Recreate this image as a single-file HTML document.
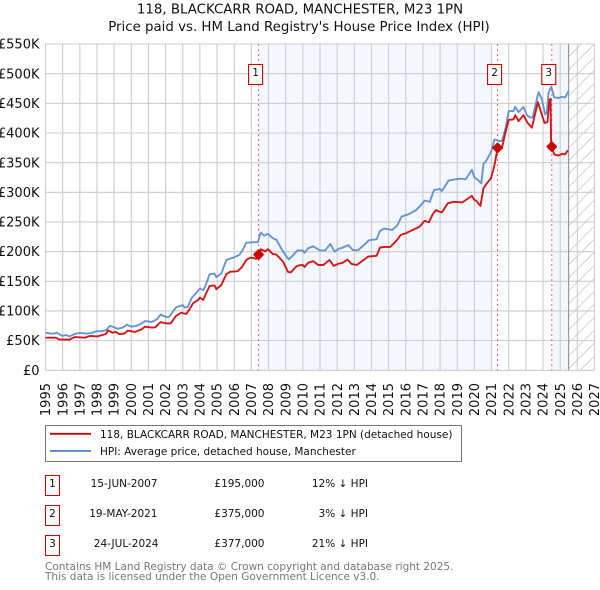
<!DOCTYPE html>
<html lang="en">
<head>
<meta charset="utf-8">
<title>118, BLACKCARR ROAD, MANCHESTER, M23 1PN</title>
<style>
html,body{margin:0;padding:0;background:#fff;}
body{width:600px;height:590px;overflow:hidden;position:relative;}
svg{display:block;position:absolute;left:0;top:0;font-family:"DejaVu Sans","Liberation Sans",sans-serif;}
</style>
</head>
<body>
<svg id="chart" width="600" height="590" viewBox="0 0 600 590" xmlns="http://www.w3.org/2000/svg">
<defs>
<pattern id="hatch" patternUnits="userSpaceOnUse" width="13" height="13" patternTransform="translate(568.5 44)">
<path d="M-1 14 L14 -1 M-3.5 3.5 L3.5 -3.5 M9.5 16.5 L16.5 9.5" stroke="#ccc" stroke-width="0.8" fill="none"/>
</pattern>
</defs>
<text x="300" y="13.5" text-anchor="middle" font-size="13.35" fill="#111">118, BLACKCARR ROAD, MANCHESTER, M23 1PN</text>
<text x="299" y="31" text-anchor="middle" font-size="13.35" fill="#111">Price paid vs. HM Land Registry's House Price Index (HPI)</text>
<g id="bands"></g>
<g id="grid"></g>
<g id="xticks"></g>
<g id="yticks"></g>
<g id="series"></g>
<g id="sales"></g>

<rect x="45.5" y="425.5" width="416" height="36" fill="#fff" stroke="#777" stroke-width="1"/>
<line x1="50" y1="433.8" x2="91" y2="433.8" stroke="#cc0000" stroke-width="1.9"/>
<text x="100" y="438" font-size="10.5" fill="#111">118, BLACKCARR ROAD, MANCHESTER, M23 1PN (detached house)</text>
<line x1="50" y1="451" x2="91" y2="451" stroke="#5f8fd0" stroke-width="1.9"/>
<text x="100" y="455" font-size="10.5" fill="#111">HPI: Average price, detached house, Manchester</text>

<g font-size="10.5" fill="#111">
<rect x="45.5" y="475.5" width="14" height="20" fill="#fff" stroke="#c00"/>
<text x="52.5" y="487" text-anchor="middle">1</text>
<text x="157.5" y="487" text-anchor="end">15-JUN-2007</text>
<text x="264.5" y="487" text-anchor="end">£195,000</text>
<text x="368" y="487" text-anchor="end">12% ↓ HPI</text>

<rect x="45.5" y="505.5" width="14" height="20" fill="#fff" stroke="#c00"/>
<text x="52.5" y="517" text-anchor="middle">2</text>
<text x="157.5" y="517" text-anchor="end">19-MAY-2021</text>
<text x="264.5" y="517" text-anchor="end">£375,000</text>
<text x="368" y="517" text-anchor="end">3% ↓ HPI</text>

<rect x="45.5" y="535.5" width="14" height="20" fill="#fff" stroke="#c00"/>
<text x="52.5" y="547" text-anchor="middle">3</text>
<text x="158.5" y="547" text-anchor="end">24-JUL-2024</text>
<text x="264.5" y="547" text-anchor="end">£377,000</text>
<text x="368" y="547" text-anchor="end">21% ↓ HPI</text>
</g>

<text x="45" y="570" font-size="10.5" fill="#777">Contains HM Land Registry data © Crown copyright and database right 2025.</text>
<text x="45" y="580" font-size="10.5" fill="#777">This data is licensed under the Open Government Licence v3.0.</text>
</svg>
<script>
const xTickYears = [1995,1996,1997,1998,1999,2000,2001,2002,2003,2004,2005,2006,2007,2008,2009,2010,2011,2012,2013,2014,2015,2016,2017,2018,2019,2020,2021,2022,2023,2024,2025,2026,2027];
const yTickValues = [0,50,100,150,200,250,300,350,400,450,500,550];
const yTickLabels = ['£0','£50K','£100K','£150K','£200K','£250K','£300K','£350K','£400K','£450K','£500K','£550K'];

const hpiDates = [1995,1995.3,1995.5,1995.65,1995.85,1996,1996.2,1996.4,1996.6,1996.8,1997,1997.4,1997.7,1998,1998.3,1998.55,1998.75,1999,1999.2,1999.5,1999.75,2000,2000.3,2000.6,2000.8,2001.2,2001.5,2001.7,2002,2002.2,2002.6,2003,2003.1,2003.3,2003.5,2003.8,2004,2004.2,2004.34,2004.57,2004.85,2004.96,2005.25,2005.54,2005.95,2006.3,2006.5,2006.7,2007.1,2007.38,2007.54,2007.75,2007.97,2008.25,2008.46,2008.85,2009.17,2009.4,2009.68,2010,2010.1,2010.3,2010.6,2011,2011.3,2011.6,2011.85,2012.1,2012.3,2012.65,2012.9,2013.2,2013.55,2013.85,2014.3,2014.5,2014.75,2015.2,2015.5,2015.75,2016.2,2016.6,2016.9,2017.1,2017.4,2017.65,2018,2018.1,2018.5,2018.9,2019.2,2019.5,2019.85,2020,2020.2,2020.4,2020.53,2020.72,2021,2021.17,2021.45,2021.6,2021.8,2022,2022.28,2022.38,2022.57,2022.86,2023.06,2023.25,2023.39,2023.74,2023.93,2024.13,2024.22,2024.32,2024.48,2024.65,2024.9,2025.1,2025.29,2025.49];
const hpiValues = [63.5,62,62,63.5,60,58,59.6,57,60,62,63,62,63,66,66,68,75,72.5,70,72,77,73.6,74.7,79,83,81.5,86,94,90,90,106,110,106,107,121,131,138,135,144,162,163,157,163,186,190,194.5,203,215,216,216,232,227,230,222.5,220,200,187,193,202,202,198,205.6,209,202,202,213,200,205,206.5,211,203,202,211,219,221,235,239,236.5,244,259,263.5,270,279,286,284,304,305.6,302,320,322,323,322,338,325,321,315,348,354.6,370,389,386.5,386.5,406,437,437,444,435,444,430,426,426,469,457,431,434,468,478,460,459,461,460,471];

const priceDates = [1995,1995.6,1995.8,1996.4,1996.7,1997.3,1997.6,1998,1998.5,1998.65,1998.9,1999.1,1999.3,1999.6,1999.8,2000.2,2000.6,2000.8,2001.2,2001.4,2001.7,2002.1,2002.3,2002.6,2002.9,2003.2,2003.4,2003.6,2003.9,2004,2004.2,2004.34,2004.57,2004.85,2004.96,2005.25,2005.54,2005.75,2006.2,2006.45,2006.7,2006.95,2007.3,2007.42,2007.54,2007.8,2007.97,2008.25,2008.46,2008.85,2009.13,2009.3,2009.62,2009.8,2010,2010.1,2010.3,2010.6,2010.9,2011.2,2011.55,2011.8,2012.1,2012.3,2012.6,2012.85,2013.15,2013.5,2013.8,2014.3,2014.5,2014.8,2015.1,2015.5,2015.7,2016,2016.4,2016.8,2017.1,2017.35,2017.55,2017.75,2018.1,2018.45,2018.8,2019.3,2019.85,2020,2020.1,2020.35,2020.53,2020.72,2020.96,2021.12,2021.2,2021.35,2021.6,2021.8,2022,2022.28,2022.38,2022.57,2022.86,2023.1,2023.35,2023.7,2023.93,2024.09,2024.26,2024.38,2024.44,2024.47,2024.51,2024.65,2024.9,2025.13,2025.29,2025.45];
const priceValues = [55,55,52,51.7,56,55,58,57,61,67,63.5,64.6,61,62,67,64.6,69,73.6,72,72.5,81,79,79,91.6,97,95,103,113,118.6,122.5,118.6,128.7,142,143,136.6,144,162,166,167,174,186,190,188,195,204,200.6,204,196,195,183,166,165,175,177,177.5,174,181,184,177.5,177.5,186,176,180,181,186.5,179,177.5,185,191.6,193,207,208,208,220,228,231,236.5,242,252,249.5,262,270,266,281.5,284,283,294,287,286,277,307,315,323.6,340,350,375,374,400,422,423,430,420,430,417,409,452,431,417,418.6,456,458,385,377,364,362,365,364,371];

const saleDates = [2007.42,2021.35,2024.51];
const salePrices = [195,375,377];
const saleLabels = ['1','2','3'];
const bandRanges = [[2007.42,2021],[2024.51,2025.49]];
const dataEndYear = 2025.49;

const NS = 'http://www.w3.org/2000/svg';
const PLOT = {left:45.5,right:594.5,top:44,bottom:370.3};
function xScale(year){return PLOT.left+(year-1995)*(PLOT.right-PLOT.left)/32;}
function yScale(v){return PLOT.bottom-v*(PLOT.bottom-PLOT.top)/550;}
function mk(tag,attrs,parent){
  const el=document.createElementNS(NS,tag);
  for(const k in attrs){el.setAttribute(k,attrs[k]);}
  parent.appendChild(el);
  return el;
}
const bands=document.getElementById('bands');
const grid=document.getElementById('grid');
const xticks=document.getElementById('xticks');
const yticks=document.getElementById('yticks');
const series=document.getElementById('series');
const sales=document.getElementById('sales');

bandRanges.forEach(function(r){
  const b=mk('rect',{x:xScale(r[0]),y:PLOT.top,width:xScale(r[1])-xScale(r[0]),height:PLOT.bottom-PLOT.top,fill:'#f4f7fe'},bands);
  
  
});
const hatch=mk('rect',{x:xScale(dataEndYear),y:PLOT.top,width:PLOT.right-xScale(dataEndYear),height:PLOT.bottom-PLOT.top,fill:'url(#hatch)'},bands);



xTickYears.forEach(function(y){
  const l=mk('line',{x1:xScale(y),x2:xScale(y),y1:PLOT.top,y2:PLOT.bottom,stroke:'#ccc','stroke-width':1.1},grid);
  
  
  const t=mk('text',{transform:'translate('+(xScale(y)+4.6)+' 383) rotate(-90)','text-anchor':'end','font-size':13,fill:'#111'},xticks);
  t.textContent=y;
  
  
});
yTickValues.forEach(function(v,i){
  const l=mk('line',{x1:PLOT.left,x2:PLOT.right,y1:yScale(v),y2:yScale(v),stroke:'#ccc','stroke-width':1.1},grid);
  
  
  const t=mk('text',{x:39.5,y:yScale(v)+4.6,'text-anchor':'end','font-size':13,fill:'#111'},yticks);
  t.textContent=yTickLabels[i];
  
  
});
const endLine=mk('line',{x1:xScale(dataEndYear),x2:xScale(dataEndYear),y1:PLOT.top,y2:PLOT.bottom,stroke:'#999','stroke-width':1.2},grid);



saleDates.forEach(function(d){
  const l=mk('line',{x1:xScale(d),x2:xScale(d),y1:PLOT.top,y2:PLOT.bottom,stroke:'#f0616e','stroke-width':1,'stroke-dasharray':'2 3'},series);
  
  
});
function linePath(xs,ys){
  return xs.map(function(d,i){return (i?'L':'M')+xScale(d).toFixed(2)+' '+yScale(ys[i]).toFixed(2);}).join(' ');
}
const hpiLine=mk('path',{d:linePath(hpiDates,hpiValues),fill:'none',stroke:'#5f8fd0','stroke-width':1.9,'stroke-linejoin':'round','stroke-opacity':0.95},series);


const priceLine=mk('path',{d:linePath(priceDates,priceValues),fill:'none',stroke:'#cc0000','stroke-width':1.9,'stroke-linejoin':'round','stroke-opacity':0.9},series);



saleDates.forEach(function(d,i){
  const cx=xScale(d), cy=yScale(salePrices[i]);
  const m=mk('rect',{x:cx-3.8,y:cy-3.8,width:7.6,height:7.6,rx:1.2,fill:'#cc0000',stroke:'#cc0000','stroke-width':0.6,transform:'rotate(45 '+cx+' '+cy+')'},sales);
  
  
  const b=mk('rect',{x:cx-10,y:64.5,width:14,height:20,fill:'#fff',stroke:'#c00','stroke-width':1.1},sales);
  
  
  const t=mk('text',{x:cx-3,y:76,'text-anchor':'middle','font-size':10.5,fill:'#111'},sales);
  t.textContent=saleLabels[i];
  
  
});
</script>
</body>
</html>
